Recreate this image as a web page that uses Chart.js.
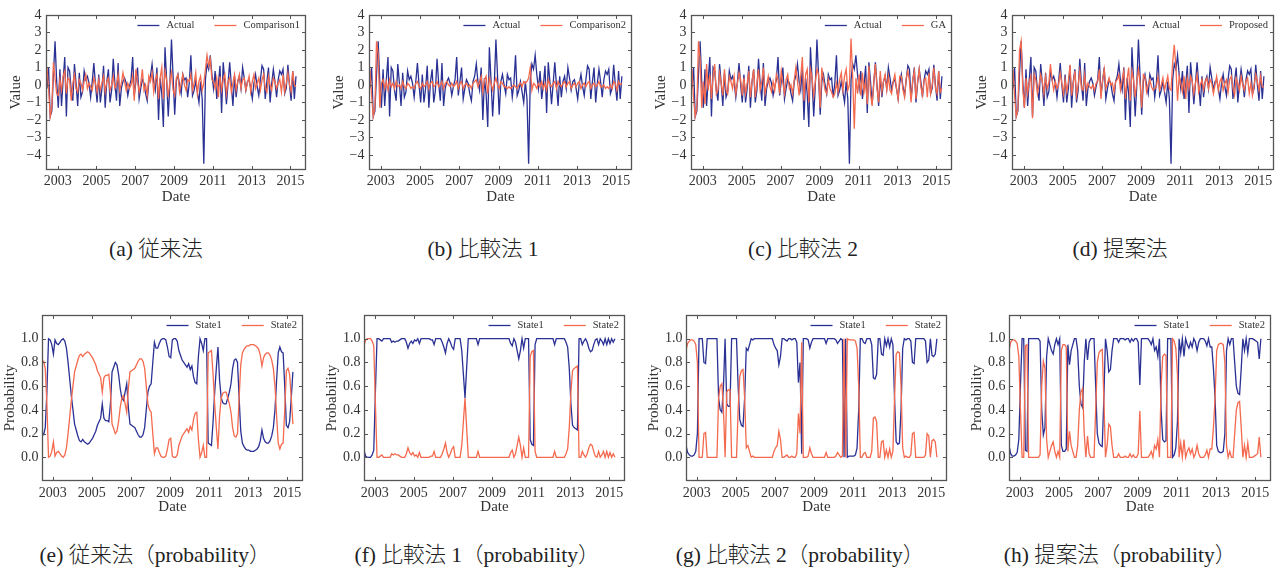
<!DOCTYPE html>
<html lang="ja"><head><meta charset="utf-8">
<script src="https://cdn.jsdelivr.net/npm/chart.js@4.4.1/dist/chart.umd.min.js"></script>
<style>
html,body{margin:0;padding:0;background:#fff;width:1282px;height:571px;overflow:hidden;position:relative}
canvas{position:absolute}
.cap{position:absolute;transform:translateX(-50%);white-space:nowrap;font-size:21.5px;color:#222;line-height:22px}
.cap .l{font-family:"Liberation Serif","DejaVu Serif",serif}
.cap .j{font-family:"Noto Sans CJK JP","Noto Sans CJK SC",sans-serif;font-weight:300}
</style></head><body>
<script>
// ---------- data (monthly) ----------
const actual = [
-0.2, 1.0, -1.8, -1.5, 0.6, 2.5, 0.2, -1.3, 0.9, -1.2,
0.3, 1.6, -1.8, 1.0, 0.8, -0.3, -0.9, 1.2, 0.1, -1.2,
0.7, -0.7, -0.4, 0.8, 0.3, 0.5, 0.1, -0.7, 0.2, 1.25,
0.0, -1.0, 0.6, -1.0, -0.2, 1.1, -1.3, 0.2, 0.9, -1.0,
-0.3, 1.5, 0.1, -0.9, 1.25, -1.2, -0.2, 0.2, 0.4, 0.1,
-0.6, -0.1, 0.3, 1.6, -0.6, 0.2, 1.0, -0.8, -0.2, 0.3,
0.1, -0.5, -0.9, 0.2, 0.5, 1.2, 0.2, -0.3, 1.0, -2.0,
0.4, -0.5, -2.4, 2.15, 0.3, -1.8, 0.0, 2.6, 0.5, -1.7,
0.2, 0.6, 0.0, -0.5, 0.6, 0.3, 0.4, -0.7, 0.1, 1.7,
-0.6, -0.3, 0.2, -0.4, -1.0, 0.2, -0.8, -4.5, 0.3, 1.2,
0.9, 1.7, 0.6, -0.2, 0.8, -0.8, 0.0, 1.1, -1.6, 1.3,
0.2, -1.1, 0.1, 1.3, 0.0, -1.2, 0.5, -0.7, 0.2, 0.5,
-0.2, 1.0, 0.4, -0.3, 0.2, 0.3, -0.2, -0.8, 0.1, 0.6,
-0.1, -0.6, 0.3, 1.1, 0.9, -0.8, 0.2, 1.0, -1.0, 0.1,
0.9, 0.2, -0.7, 0.3, 0.8, 0.6, 0.9, -0.5, -0.2, 1.15,
0.0, -0.9, 0.8, -0.8, 0.5];

const comparison1 = [
1.0, -0.2, -1.8, -1.3, 1.3, 0.4, -0.5, -0.6, 0.3, -0.3,
0.5, 0.8, -0.5, 0.4, 0.3, -0.9, 0.1, 0.6, -0.2, -0.4,
0.3, 0.1, -0.3, 0.2, 0.6, -0.2, 0.1, -0.1, -0.3, 0.4,
0.1, -0.4, 0.3, -0.3, 0.1, 0.5, -0.4, 0.2, 0.4, -0.3,
0.0, 0.5, -0.2, 0.0, 0.6, -0.3, 0.1, 0.7, 0.2, -0.3,
0.1, -0.2, 0.0, 0.5, -0.9, 0.9, 0.2, -0.4, 0.1, 0.9,
-0.3, 0.0, -0.6, 0.5, 0.2, 0.7, -0.4, 0.3, 0.6, -0.8,
0.4, 1.0, -0.8, 0.8, 0.3, -0.7, 0.2, 0.7, -0.3, -0.6,
0.4, 0.6, -0.4, 0.1, 0.6, 0.0, -0.3, 0.3, 0.2, 0.6,
-0.3, 0.1, 0.7, -0.5, 0.2, 0.5, -0.3, 0.1, 0.9, 1.7,
1.1, 1.5, 0.3, 0.2, -0.2, 0.4, -0.7, 0.5, -0.3, 0.3,
0.6, -0.5, 0.2, 0.4, -0.4, 0.1, 0.6, -0.3, 0.2, 0.6,
-0.2, 0.3, 0.4, -0.3, 0.1, 0.5, -0.4, 0.2, 0.6, -0.2,
0.1, 0.4, -0.3, 0.3, 0.6, -0.2, -0.4, 0.5, 0.0, -0.3,
0.4, 0.2, -0.2, 0.1, 0.3, -0.4, 0.6, -0.4, 0.1, 0.7,
0.0, -0.4, 0.8, 0.0, -0.1];

const comparison2 = [
0.9, -0.6, -1.8, -1.3, 2.5, 1.8, -1.3, 0.1, 0.3, -0.2,
0.2, -0.3, 0.3, -0.1, 0.1, -0.2, 0.2, -0.1, 0.0, -0.2,
0.2, -0.1, -0.2, 0.1, 0.0, -0.2, -0.1, -0.2, 0.1, 0.2,
-0.1, -0.2, 0.1, -0.1, 0.0, 0.2, -0.2, 0.1, 0.2, -0.1,
0.0, 0.2, -0.1, 0.0, 0.2, -0.2, 0.1, 0.2, 0.0, -0.1,
0.1, -0.1, 0.0, 0.2, -0.2, 0.1, 0.2, -0.2, 0.0, 0.1,
-0.1, 0.0, -0.2, 0.1, 0.2, 0.3, -0.1, 0.2, 0.5, -0.4,
0.3, 0.5, -0.5, 0.4, 0.1, -0.3, 0.1, 0.4, 0.0, -0.2,
0.2, 0.1, -0.1, -0.1, -0.2, -0.1, -0.2, -0.1, 0.0, -0.1,
-0.2, 0.0, 0.1, -0.1, 0.2, 0.1, 0.2, 0.4, 1.0, -0.3,
0.1, 0.0, -0.2, 0.1, -0.1, 0.2, -0.2, 0.1, -0.3, 0.3,
0.0, -0.1, 0.1, 0.2, -0.2, 0.2, 0.0, -0.1, 0.1, 0.2,
-0.1, 0.1, 0.2, -0.2, 0.0, 0.1, -0.1, 0.1, 0.2, -0.2,
0.0, 0.1, -0.1, 0.1, 0.2, -0.2, 0.0, 0.1, -0.1, 0.0,
0.2, -0.1, -0.1, 0.0, -0.2, -0.1, -0.2, 0.0, -0.2, 0.2,
0.1, -0.3, 0.2, 0.0, 0.1];

const ga = [
0.9, -0.8, -1.8, -1.3, 2.5, 1.5, -1.3, 0.2, -1.1, 1.2,
-0.3, 0.6, -0.8, 0.5, 1.2, -0.5, -0.3, 0.7, 0.1, -0.6,
0.9, -0.3, -0.5, 0.5, 0.2, -0.2, 0.5, -0.5, 0.1, 0.7,
0.3, -0.6, 0.4, -0.5, 0.1, 0.8, -0.7, 0.2, 0.9, -0.7,
0.1, 0.9, -0.3, 0.2, 1.0, -0.5, 0.0, 0.5, -0.1, -0.4,
0.2, -0.3, 0.6, 0.3, -0.5, 0.8, 0.1, -0.5, 0.3, 0.6,
-0.2, 0.0, -0.5, 0.3, 1.0, 0.2, -0.6, 0.5, 1.6, -0.9,
0.6, 0.9, -1.0, 0.9, 0.4, -0.6, 0.2, 0.9, 0.6, -1.3,
1.0, 0.3, -0.3, -0.5, 0.3, -0.2, -0.4, -0.7, -0.5, 0.1,
-0.4, 0.3, 0.7, -0.3, 0.5, 0.9, -0.3, 0.0, 2.65, 0.5,
-2.5, 0.4, -0.5, 0.6, -0.6, 0.7, -0.4, 0.2, -1.1, 1.1,
-0.5, -1.2, 0.2, 1.2, -0.2, -1.0, 0.8, -0.4, 0.2, 0.6,
-0.3, 0.5, -0.3, -0.5, 0.2, 0.6, -0.2, -0.8, 0.5, 0.5,
-0.3, -0.7, 0.4, 0.8, 0.2, -1.0, 0.3, 0.8, -0.8, 0.2,
0.9, -0.1, -0.6, 0.3, 0.4, -0.7, 0.7, -0.5, 0.0, 1.0,
-0.2, -0.5, 0.8, -0.4, -0.2];

const proposed = [
0.9, -0.6, -1.8, -1.4, 2.0, 2.5, -0.2, -1.3, 0.4, -0.5,
0.2, 0.5, -1.9, 0.6, 0.3, -0.5, 0.0, 0.6, 0.2, -0.5,
0.5, -0.2, 0.1, 1.2, 0.3, -0.3, 0.2, -0.2, 0.0, 0.7,
0.1, -0.5, 0.3, -0.4, 0.2, 1.15, -0.6, 0.1, 0.8, -0.6,
0.0, 0.8, -0.2, -0.3, 0.6, -0.3, 0.1, -0.1, -0.2, 0.0,
-0.3, 0.1, 0.2, 0.9, -0.8, 0.3, 0.9, -0.2, 0.1, 0.4,
0.0, 0.1, -0.4, 0.2, 0.3, 0.6, -0.3, 0.3, 0.8, -0.8,
0.3, 1.0, -0.9, 0.8, 0.3, -0.7, 0.2, 0.9, 0.1, -1.3,
0.6, 0.5, -0.4, 0.0, 0.3, -0.1, -0.3, -0.2, -0.1, 0.5,
-0.3, 0.0, 0.4, -0.3, 0.1, 0.5, -0.2, -0.3, 1.3, 2.3,
1.0, -0.9, 0.5, 0.1, -0.4, 0.5, -0.8, 0.4, -0.2, 0.5,
0.2, -0.5, 0.1, 0.6, -0.4, 0.0, 0.3, -0.3, 0.2, 0.4,
-0.2, 0.3, 0.1, -0.5, 0.0, 0.5, -0.3, 0.2, 0.4, -0.3,
0.1, 0.3, -0.4, 0.3, 0.5, -0.2, -0.6, 0.4, 0.1, -0.3,
0.5, 0.0, -0.3, 0.2, 0.4, -0.5, 0.1, -0.6, 0.0, 0.6,
0.2, -0.3, 0.5, -0.1, -0.1];

const convState1 = [
0.20, 0.19, 0.25, 0.55, 1.00, 0.99, 0.95, 0.87, 0.99, 0.96,
0.95, 0.97, 0.99, 1.00, 0.98, 0.92, 0.80, 0.66, 0.52, 0.40,
0.28, 0.23, 0.18, 0.14, 0.13, 0.15, 0.13, 0.12, 0.11, 0.12,
0.14, 0.16, 0.19, 0.22, 0.27, 0.30, 0.33, 0.45, 0.33, 0.31,
0.31, 0.30, 0.45, 0.72, 0.76, 0.80, 0.78, 0.70, 0.58, 0.50,
0.48, 0.55, 0.62, 0.42, 0.28, 0.27, 0.26, 0.25, 0.22, 0.19,
0.17, 0.17, 0.19, 0.25, 0.40, 0.55, 0.60, 0.62, 0.80, 0.97,
0.92, 0.92, 0.96, 0.99, 1.00, 1.00, 0.99, 0.93, 0.85, 0.84,
0.99, 1.00, 1.00, 0.98, 0.90, 0.86, 0.82, 0.80, 0.78, 0.76,
0.79, 0.74, 0.77, 0.68, 0.63, 0.62, 0.85, 1.00, 0.96, 0.90,
1.00, 1.00, 0.12, 0.11, 0.10, 0.30, 0.55, 0.75, 0.93, 0.65,
0.50, 0.46, 0.45, 0.45, 0.50, 0.55, 0.62, 0.75, 0.82, 0.83,
0.80, 0.50, 0.22, 0.12, 0.09, 0.07, 0.06, 0.06, 0.05, 0.05,
0.05, 0.06, 0.07, 0.09, 0.14, 0.23, 0.16, 0.13, 0.12, 0.12,
0.14, 0.18, 0.25, 0.40, 0.65, 0.88, 0.93, 0.89, 0.88, 0.60,
0.27, 0.25, 0.30, 0.50, 0.72];
const convState2 = [
0.80, 0.81, 0.75, 0.45, 0.00, 0.01, 0.05, 0.13, 0.01, 0.04,
0.05, 0.03, 0.01, 0.00, 0.02, 0.08, 0.20, 0.34, 0.48, 0.60,
0.72, 0.77, 0.82, 0.86, 0.87, 0.85, 0.87, 0.88, 0.89, 0.88,
0.86, 0.84, 0.81, 0.78, 0.73, 0.70, 0.67, 0.55, 0.67, 0.69,
0.69, 0.70, 0.55, 0.28, 0.24, 0.20, 0.22, 0.30, 0.42, 0.50,
0.52, 0.45, 0.38, 0.58, 0.72, 0.73, 0.74, 0.75, 0.78, 0.81,
0.83, 0.83, 0.81, 0.75, 0.60, 0.45, 0.40, 0.38, 0.20, 0.03,
0.08, 0.08, 0.04, 0.01, 0.00, 0.00, 0.01, 0.07, 0.15, 0.16,
0.01, 0.00, 0.00, 0.02, 0.10, 0.14, 0.18, 0.20, 0.22, 0.24,
0.21, 0.26, 0.23, 0.32, 0.37, 0.38, 0.15, 0.00, 0.04, 0.10,
0.00, 0.00, 0.88, 0.89, 0.90, 0.70, 0.45, 0.25, 0.07, 0.35,
0.50, 0.54, 0.55, 0.55, 0.50, 0.45, 0.38, 0.25, 0.18, 0.17,
0.20, 0.50, 0.78, 0.88, 0.91, 0.93, 0.94, 0.94, 0.95, 0.95,
0.95, 0.94, 0.93, 0.91, 0.86, 0.77, 0.84, 0.87, 0.88, 0.88,
0.86, 0.82, 0.75, 0.60, 0.35, 0.12, 0.07, 0.11, 0.12, 0.40,
0.73, 0.75, 0.70, 0.50, 0.28];

const cmp1State1 = [
0.06, 0.01, 0.00, 0.00, 0.00, 0.02, 0.06, 0.55, 1.00, 1.00,
0.99, 0.98, 1.00, 1.00, 1.00, 1.00, 1.00, 0.97, 0.98, 0.97,
0.98, 0.98, 0.99, 1.00, 1.00, 1.00, 0.97, 0.92, 0.96, 0.98,
0.96, 0.99, 0.98, 1.00, 0.96, 1.00, 1.00, 1.00, 1.00, 1.00,
1.00, 0.99, 0.99, 0.95, 1.00, 1.00, 1.00, 1.00, 0.97, 0.93,
0.88, 0.96, 1.00, 0.97, 0.93, 0.91, 1.00, 1.00, 1.00, 1.00,
0.90, 0.70, 0.50, 0.75, 1.00, 1.00, 1.00, 1.00, 1.00, 1.00,
0.95, 1.00, 1.00, 1.00, 1.00, 1.00, 1.00, 1.00, 1.00, 1.00,
1.00, 1.00, 1.00, 1.00, 1.00, 1.00, 1.00, 1.00, 1.00, 1.00,
0.96, 0.94, 1.00, 0.97, 0.90, 0.83, 0.90, 1.00, 0.92, 1.00,
1.00, 1.00, 0.15, 0.11, 0.10, 0.95, 1.00, 1.00, 1.00, 1.00,
1.00, 1.00, 1.00, 1.00, 1.00, 1.00, 1.00, 0.95, 1.00, 1.00,
1.00, 1.00, 1.00, 1.00, 0.97, 0.93, 0.75, 0.45, 0.27, 0.25,
0.24, 0.23, 1.00, 1.00, 0.95, 0.98, 1.00, 0.97, 0.92, 0.89,
0.90, 0.95, 0.99, 1.00, 0.95, 1.00, 0.98, 0.95, 1.00, 0.95,
1.00, 0.96, 1.00, 0.97, 1.00];
const cmp1State2 = [
0.94, 0.99, 1.00, 1.00, 1.00, 0.98, 0.94, 0.45, 0.00, 0.00,
0.01, 0.02, 0.00, 0.00, 0.00, 0.00, 0.00, 0.03, 0.02, 0.03,
0.02, 0.02, 0.01, 0.00, 0.00, 0.00, 0.03, 0.08, 0.04, 0.02,
0.04, 0.01, 0.02, 0.00, 0.04, 0.00, 0.00, 0.00, 0.00, 0.00,
0.00, 0.01, 0.01, 0.05, 0.00, 0.00, 0.00, 0.00, 0.03, 0.07,
0.12, 0.04, 0.00, 0.03, 0.07, 0.09, 0.00, 0.00, 0.00, 0.00,
0.10, 0.30, 0.50, 0.25, 0.00, 0.00, 0.00, 0.00, 0.00, 0.00,
0.05, 0.00, 0.00, 0.00, 0.00, 0.00, 0.00, 0.00, 0.00, 0.00,
0.00, 0.00, 0.00, 0.00, 0.00, 0.00, 0.00, 0.00, 0.00, 0.00,
0.04, 0.06, 0.00, 0.03, 0.10, 0.17, 0.10, 0.00, 0.08, 0.00,
0.00, 0.00, 0.85, 0.89, 0.90, 0.05, 0.00, 0.00, 0.00, 0.00,
0.00, 0.00, 0.00, 0.00, 0.00, 0.00, 0.00, 0.05, 0.00, 0.00,
0.00, 0.00, 0.00, 0.00, 0.03, 0.07, 0.25, 0.55, 0.73, 0.75,
0.76, 0.77, 0.00, 0.00, 0.05, 0.02, 0.00, 0.03, 0.08, 0.11,
0.10, 0.05, 0.01, 0.00, 0.05, 0.00, 0.02, 0.05, 0.00, 0.05,
0.00, 0.04, 0.00, 0.03, 0.00];

const cmp2State1 = [
0.10, 0.04, 0.02, 0.01, 0.01, 0.02, 0.05, 0.20, 1.00, 1.00,
1.00, 0.80, 0.79, 1.00, 1.00, 1.00, 1.00, 1.00, 1.00, 1.00,
0.50, 0.40, 0.38, 0.60, 1.00, 0.45, 0.43, 0.43, 1.00, 1.00,
1.00, 1.00, 0.60, 0.32, 0.27, 0.26, 0.50, 0.92, 0.90, 0.95,
1.00, 0.99, 1.00, 1.00, 1.00, 1.00, 1.00, 1.00, 1.00, 1.00,
1.00, 1.00, 1.00, 1.00, 0.95, 0.92, 0.90, 0.78, 0.85, 1.00,
1.00, 0.99, 0.98, 1.00, 1.00, 0.99, 1.00, 1.00, 0.97, 0.63,
0.80, 0.03, 1.00, 1.00, 1.00, 0.99, 0.92, 0.97, 1.00, 1.00,
1.00, 1.00, 1.00, 1.00, 1.00, 1.00, 0.96, 1.00, 1.00, 1.00,
1.00, 1.00, 0.99, 0.96, 0.98, 1.00, 0.99, 0.00, 1.00, 0.00,
0.01, 0.01, 0.01, 0.01, 0.02, 0.08, 0.40, 1.00, 1.00, 0.97,
0.96, 1.00, 1.00, 1.00, 0.95, 0.67, 0.66, 0.70, 1.00, 1.00,
0.87, 0.86, 1.00, 0.94, 1.00, 0.93, 1.00, 0.95, 0.50, 0.13,
0.11, 0.12, 0.40, 0.92, 1.00, 0.99, 1.00, 1.00, 0.98, 0.80,
0.79, 1.00, 1.00, 1.00, 1.00, 1.00, 1.00, 0.98, 0.80, 0.82,
1.00, 0.86, 0.85, 0.87, 1.00];
const cmp2State2 = [
0.90, 0.96, 0.98, 0.99, 0.99, 0.98, 0.95, 0.80, 0.00, 0.00,
0.00, 0.20, 0.21, 0.00, 0.00, 0.00, 0.00, 0.00, 0.00, 0.00,
0.50, 0.60, 0.62, 0.40, 0.00, 0.55, 0.57, 0.57, 0.00, 0.00,
0.00, 0.00, 0.40, 0.68, 0.73, 0.74, 0.50, 0.08, 0.10, 0.05,
0.00, 0.01, 0.00, 0.00, 0.00, 0.00, 0.00, 0.00, 0.00, 0.00,
0.00, 0.00, 0.00, 0.00, 0.05, 0.08, 0.10, 0.22, 0.15, 0.00,
0.00, 0.01, 0.02, 0.00, 0.00, 0.01, 0.00, 0.00, 0.03, 0.37,
0.20, 0.97, 0.00, 0.00, 0.00, 0.01, 0.08, 0.03, 0.00, 0.00,
0.00, 0.00, 0.00, 0.00, 0.00, 0.00, 0.04, 0.00, 0.00, 0.00,
0.00, 0.00, 0.01, 0.04, 0.02, 0.00, 0.01, 1.00, 0.00, 1.00,
0.99, 0.99, 0.99, 0.99, 0.98, 0.92, 0.60, 0.00, 0.00, 0.03,
0.04, 0.00, 0.00, 0.00, 0.05, 0.33, 0.34, 0.30, 0.00, 0.00,
0.13, 0.14, 0.00, 0.06, 0.00, 0.07, 0.00, 0.05, 0.50, 0.87,
0.89, 0.88, 0.60, 0.08, 0.00, 0.01, 0.00, 0.00, 0.02, 0.20,
0.21, 0.00, 0.00, 0.00, 0.00, 0.00, 0.00, 0.02, 0.20, 0.18,
0.00, 0.14, 0.15, 0.13, 0.00];

const propState1 = [
0.10, 0.03, 0.01, 0.01, 0.02, 0.04, 0.15, 0.60, 1.00, 1.00,
0.06, 0.05, 1.00, 1.00, 1.00, 1.00, 1.00, 1.00, 1.00, 0.98,
0.40, 0.19, 0.25, 0.85, 1.00, 0.95, 0.90, 0.87, 0.95, 1.00,
0.95, 1.00, 0.10, 0.05, 0.05, 0.07, 0.95, 0.78, 0.90, 0.95,
1.00, 1.00, 0.90, 0.60, 0.45, 0.42, 0.80, 1.00, 0.82, 0.97,
1.00, 1.00, 1.00, 0.60, 0.20, 0.12, 0.10, 0.09, 0.50, 1.00,
0.90, 0.72, 0.74, 0.90, 1.00, 1.00, 1.00, 0.97, 1.00, 1.00,
1.00, 0.99, 1.00, 1.00, 0.97, 1.00, 0.98, 1.00, 1.00, 0.97,
0.61, 1.00, 1.00, 1.00, 1.00, 1.00, 0.98, 0.95, 1.00, 0.90,
0.93, 0.85, 1.00, 0.40, 0.15, 0.13, 0.14, 1.00, 1.00, 1.00,
0.00, 0.02, 0.08, 0.30, 1.00, 0.88, 1.00, 0.85, 1.00, 0.95,
0.92, 0.97, 0.93, 1.00, 0.97, 0.90, 0.97, 1.00, 1.00, 1.00,
0.98, 0.94, 1.00, 0.93, 0.93, 0.75, 0.50, 0.10, 0.05, 0.04,
0.04, 0.05, 0.20, 0.90, 1.00, 0.95, 1.00, 1.00, 0.80, 0.60,
0.54, 0.53, 0.75, 1.00, 0.90, 1.00, 0.88, 1.00, 1.00, 1.00,
0.99, 0.98, 0.97, 0.83, 1.00];
const propState2 = [
0.90, 0.97, 0.99, 0.99, 0.98, 0.96, 0.85, 0.40, 0.00, 0.00,
0.94, 0.95, 0.00, 0.00, 0.00, 0.00, 0.00, 0.00, 0.00, 0.02,
0.60, 0.81, 0.75, 0.15, 0.00, 0.05, 0.10, 0.13, 0.05, 0.00,
0.05, 0.00, 0.90, 0.95, 0.95, 0.93, 0.05, 0.22, 0.10, 0.05,
0.00, 0.00, 0.10, 0.40, 0.55, 0.58, 0.20, 0.00, 0.18, 0.03,
0.00, 0.00, 0.00, 0.40, 0.80, 0.88, 0.90, 0.91, 0.50, 0.00,
0.10, 0.28, 0.26, 0.10, 0.00, 0.00, 0.00, 0.03, 0.00, 0.00,
0.00, 0.01, 0.00, 0.00, 0.03, 0.00, 0.02, 0.00, 0.00, 0.03,
0.39, 0.00, 0.00, 0.00, 0.00, 0.00, 0.02, 0.05, 0.00, 0.10,
0.07, 0.15, 0.00, 0.60, 0.85, 0.87, 0.86, 0.00, 0.00, 0.00,
1.00, 0.98, 0.92, 0.70, 0.00, 0.12, 0.00, 0.15, 0.00, 0.05,
0.08, 0.03, 0.07, 0.00, 0.03, 0.10, 0.03, 0.00, 0.00, 0.00,
0.02, 0.06, 0.00, 0.07, 0.07, 0.25, 0.50, 0.90, 0.95, 0.96,
0.96, 0.95, 0.80, 0.10, 0.00, 0.05, 0.00, 0.00, 0.20, 0.40,
0.46, 0.47, 0.25, 0.00, 0.10, 0.00, 0.12, 0.00, 0.00, 0.00,
0.01, 0.02, 0.03, 0.17, 0.00];

const xTicks = [2003, 2005, 2007, 2009, 2011, 2013, 2015];
const yTicksValue = [-4, -3, -2, -1, 0, 1, 2, 3, 4];
const yTicksProb = [0.0, 0.2, 0.4, 0.6, 0.8, 1.0];
const START = 2002.45;                 // first month (decimal year)
const dates = actual.map((_, i) => START + i / 12);

// ---------- styling ----------
const BLUE = '#2a3194', RED = '#f46a4e', TXT = '#333', FRAME = '#555';
const FONT = '"Liberation Serif", "DejaVu Serif", serif';

const panels = [
  {L:46,  R:306,  T:15,  B:170, kind:'v', names:['Actual','Comparison1'], s:[actual, comparison1]},
  {L:369, R:632,  T:15,  B:170, kind:'v', names:['Actual','Comparison2'], s:[actual, comparison2]},
  {L:691, R:952,  T:15,  B:170, kind:'v', names:['Actual','GA'],          s:[actual, ga]},
  {L:1012,R:1274, T:15,  B:170, kind:'v', names:['Actual','Proposed'],    s:[actual, proposed]},
  {L:42,  R:303,  T:315, B:481, kind:'p', names:['State1','State2'], s:[convState1, convState2]},
  {L:364, R:625,  T:315, B:481, kind:'p', names:['State1','State2'], s:[cmp1State1, cmp1State2]},
  {L:686, R:947,  T:315, B:481, kind:'p', names:['State1','State2'], s:[cmp2State1, cmp2State2]},
  {L:1009,R:1271, T:315, B:481, kind:'p', names:['State1','State2'], s:[propState1, propState2]}
];
// caption parts: [latin-or-cjk flag, text]
const captions = [
  [[['l','(a) '],['j','従来法']], 156, 249],
  [[['l','(b) '],['j','比較法'],['l',' 1']], 483, 249],
  [[['l','(c) '],['j','比較法'],['l',' 2']], 803, 249],
  [[['l','(d) '],['j','提案法']], 1120, 249],
  [[['l','(e) '],['j','従来法（'],['l','probability'],['j','）']], 155, 555],
  [[['l','(f) '],['j','比較法'],['l',' 1'],['j','（'],['l','probability'],['j','）']], 477, 555],
  [[['l','(g) '],['j','比較法'],['l',' 2'],['j','（'],['l','probability'],['j','）']], 800, 555],
  [[['l','(h) '],['j','提案法（'],['l','probability'],['j','）']], 1120, 555]
];

const framePlugin = {
  id: 'frame',
  afterDraw(chart) {
    const {ctx, chartArea: a, scales: {x, y}} = chart;
    ctx.save();
    ctx.strokeStyle = FRAME; ctx.lineWidth = 1;
    ctx.beginPath();
    x.ticks.forEach(t => {
      const px = Math.round(x.getPixelForValue(t.value)) + 0.5;
      ctx.moveTo(px, a.bottom); ctx.lineTo(px, a.bottom - 4);
      ctx.moveTo(px, a.top); ctx.lineTo(px, a.top + 4);
    });
    y.ticks.forEach(t => {
      const py = Math.round(y.getPixelForValue(t.value)) + 0.5;
      ctx.moveTo(a.left, py); ctx.lineTo(a.left + 4, py);
      ctx.moveTo(a.right, py); ctx.lineTo(a.right - 4, py);
    });
    ctx.stroke();
    ctx.lineWidth = 1.3;
    ctx.strokeRect(a.left + 0.5, a.top + 0.5, a.right - a.left - 1, a.bottom - a.top - 1);
    ctx.restore();
  }
};

const legendPlugin = {
  id: 'innerLegend',
  afterDraw(chart) {
    const {ctx, chartArea: a} = chart;
    const ds = chart.data.datasets;
    ctx.save();
    ctx.font = '10.5px ' + FONT;
    ctx.textBaseline = 'middle';
    const y = a.top + 10.5;
    let cur = a.right - 6;
    for (let i = ds.length - 1; i >= 0; i--) {
      const w = ctx.measureText(ds[i].label).width;
      const tx = cur - w, se = tx - 7, ss = se - 22;
      ctx.fillStyle = TXT; ctx.fillText(ds[i].label, tx, y);
      ctx.strokeStyle = ds[i].borderColor; ctx.lineWidth = 1.3;
      ctx.beginPath(); ctx.moveTo(ss, y); ctx.lineTo(se, y); ctx.stroke();
      cur = ss - 20;
    }
    ctx.restore();
  }
};

function makeChart(p) {
  const isV = p.kind === 'v';
  const axisW = 46, padTop = 15, padRight = 8, axisH = 45;
  const W = p.R - p.L, H = p.B - p.T;
  const cw = axisW + W + padRight, ch = padTop + H + axisH;
  const cv = document.createElement('canvas');
  cv.width = cw; cv.height = ch;
  cv.style.width = cw + 'px'; cv.style.height = ch + 'px';
  cv.style.left = (p.L - axisW) + 'px'; cv.style.top = (p.T - padTop) + 'px';
  document.body.appendChild(cv);
  new Chart(cv, {
    type: 'line',
    data: {
      labels: dates,
      datasets: [
        {label: p.names[0], data: p.s[0], borderColor: BLUE, backgroundColor: BLUE, order: 1},
        {label: p.names[1], data: p.s[1], borderColor: RED, backgroundColor: RED, order: 0}
      ]
    },
    options: {
      responsive: false, animation: false, events: [], devicePixelRatio: 1,
      layout: {padding: {top: padTop, right: padRight, left: 0, bottom: 0}},
      elements: {line: {borderWidth: 1.3, tension: 0, fill: false}, point: {radius: 0, hoverRadius: 0}},
      plugins: {legend: {display: false}, tooltip: {enabled: false}},
      scales: {
        x: {
          type: 'linear', min: isV ? 2002.40 : START, max: 2015.8,
          afterBuildTicks: s => { s.ticks = xTicks.map(v => ({value: v})); },
          afterFit: s => { s.height = axisH; },
          grid: {display: false, drawTicks: false}, border: {display: false},
          ticks: {padding: isV ? 3 : 4, color: TXT, font: {family: FONT, size: 14},
                  autoSkip: false, maxRotation: 0, callback: v => String(v)},
          title: {display: true, text: 'Date', color: TXT, font: {family: FONT, size: 15},
                  padding: {top: 0, bottom: isV ? 9 : 10}}
        },
        y: {
          type: 'linear', min: isV ? -4.86 : -0.2, max: isV ? 4 : 1.2,
          afterBuildTicks: s => { s.ticks = (isV ? yTicksValue : yTicksProb).map(v => ({value: v})); },
          afterFit: s => { s.width = axisW; },
          grid: {display: false, drawTicks: false}, border: {display: false},
          ticks: {padding: isV ? 4.5 : 3.5, color: TXT, font: {family: FONT, size: 14}, autoSkip: false,
                  callback: v => isV ? (v < 0 ? '\u2212' + Math.abs(v) : String(v)) : Number(v).toFixed(1)},
          title: {display: true, text: isV ? 'Value' : 'Probability', color: TXT,
                  font: {family: FONT, size: 15}, padding: {top: isV ? 7 : 5, bottom: 0}}
        }
      }
    },
    plugins: [framePlugin, legendPlugin]
  });
}

panels.forEach(makeChart);
captions.forEach(([parts, cx, cy]) => {
  const d = document.createElement('div');
  d.className = 'cap';
  parts.forEach(([cls, t]) => {
    const s = document.createElement('span');
    s.className = cls; s.textContent = t;
    d.appendChild(s);
  });
  d.style.left = cx + 'px'; d.style.top = (cy - 13) + 'px';
  document.body.appendChild(d);
});
</script>
</body></html>
